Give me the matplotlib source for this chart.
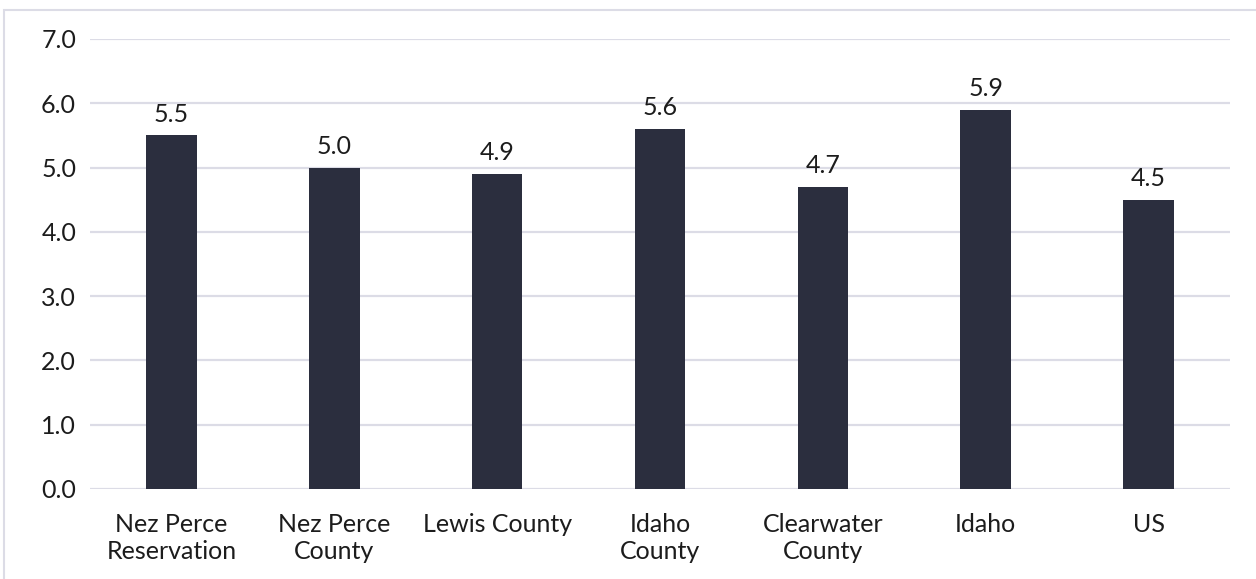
import matplotlib.pyplot as plt
from matplotlib.patches import Rectangle

# Bar chart of values by area
areas = ["Nez Perce\nReservation", "Nez Perce\nCounty", "Lewis County",
         "Idaho\nCounty", "Clearwater\nCounty", "Idaho", "US"]
values = [5.5, 5.0, 4.9, 5.6, 4.7, 5.9, 4.5]
yticks = [0, 1, 2, 3, 4, 5, 6, 7]

bar_color = "#2b2e3e"
grid_color = "#dcdce6"
text_color = "#1c1c1c"

plt.rcParams['font.family'] = ['Lato', 'DejaVu Sans']

fig = plt.figure(figsize=(12.56, 5.79), dpi=100)
ax = fig.add_axes([90 / 1256, 1 - 489 / 579, 1140 / 1256, 450 / 579])

# outer chart frame
fig.patches.append(Rectangle((4 / 1256, -0.1), 1.2, 1 - 10 / 579 + 0.1,
                             transform=fig.transFigure, fill=False,
                             edgecolor=grid_color, linewidth=1.5))

x = list(range(len(areas)))
ax.bar(x, values, width=0.31, color=bar_color, zorder=3)

for xi, v in zip(x, values):
    ax.text(xi, v + 0.15, f"{v:.1f}", ha="center", va="bottom",
            fontsize=18, color=text_color)

ax.set_xlim(-0.5, len(areas) - 0.5)
ax.set_ylim(0, 7)
ax.set_yticks(yticks)
ax.set_yticklabels([f"{t:.1f}" for t in yticks], fontsize=18, color=text_color)
ax.set_xticks(x)
ax.set_xticklabels(areas, fontsize=18, color=text_color, linespacing=1.22)
ax.tick_params(axis="both", length=0)
ax.tick_params(axis="y", pad=10)
ax.tick_params(axis="x", pad=17)

ax.yaxis.grid(True, color=grid_color, linewidth=1.6, zorder=0)
ax.set_axisbelow(True)
for s in ax.spines.values():
    s.set_visible(False)

fig.savefig("out.png", dpi=100)
